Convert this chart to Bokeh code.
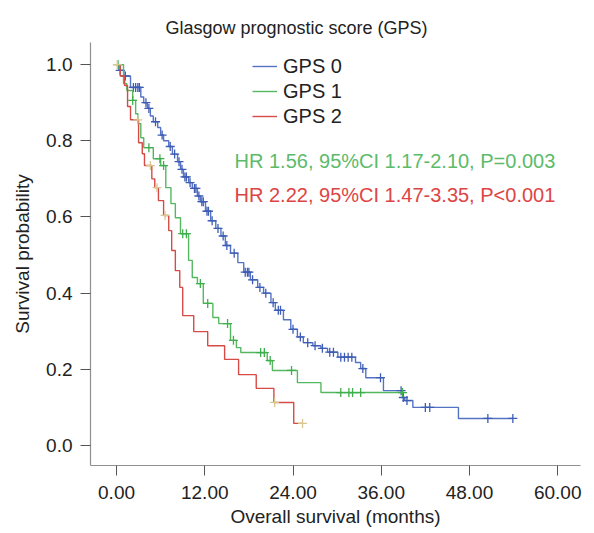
import numpy as np
from bokeh.plotting import figure
from bokeh.models import Range1d, FixedTicker, Legend, LegendItem, Label
from bokeh.embed import file_html
from bokeh.resources import INLINE

# ---------------- data ----------------
title_text = "Glasgow prognostic score (GPS)"
group_names = ["GPS 0", "GPS 1", "GPS 2"]

# GPS 0 (blue) Kaplan-Meier steps: time (months) and survival after each step
gps0_t = [0, 0.3, 1.0, 1.9, 3.3, 3.7, 4.2, 4.6, 5.0, 5.6, 6.0, 6.4, 7.1, 7.6, 8.3, 8.7,
          9.1, 9.8, 10.3, 11.0, 11.4, 12.1, 12.8, 13.5, 14.2, 14.8, 15.5, 16.5, 17.3,
          18.2, 19.2, 20.0, 21.0, 21.6, 22.7, 23.7, 24.6, 25.4, 26.7, 27.8, 28.7, 30.1,
          32.5, 33.2, 33.9, 36.3, 38.9, 39.2, 40.3, 46.5]
gps0_s = [1.0, 0.985, 0.97, 0.94, 0.915, 0.90, 0.885, 0.865, 0.85, 0.835, 0.815, 0.80,
          0.785, 0.765, 0.745, 0.725, 0.705, 0.69, 0.675, 0.655, 0.64, 0.615, 0.59, 0.57,
          0.55, 0.525, 0.505, 0.48, 0.455, 0.435, 0.415, 0.40, 0.375, 0.355, 0.33, 0.305,
          0.285, 0.27, 0.262, 0.255, 0.245, 0.232, 0.218, 0.202, 0.178, 0.144, 0.126,
          0.118, 0.10, 0.071]
gps0_end = 53.9
gps0_cens = [0.5, 1.2, 2.3, 2.6, 2.9, 3.1, 4.0, 4.4, 5.3, 6.2, 7.3, 7.9, 8.5, 8.9, 9.3,
             9.5, 10.0, 10.6, 10.8, 11.2, 11.6, 11.8, 12.3, 12.5, 13.0, 13.8, 14.5, 15.0,
             16.0, 17.5, 17.8, 18.0, 18.5, 19.5, 20.3, 21.3, 22.0, 22.3, 24.0, 25.0, 26.0,
             27.0, 28.0, 29.0, 29.5, 30.5, 31.0, 31.5, 32.0, 33.5, 35.9, 38.7, 39.0, 39.5,
             42.0, 42.6, 50.5, 53.9]

# GPS 1 (green)
gps1_t = [0, 0.95, 1.4, 2.2, 2.6, 2.9, 3.3, 3.7, 5.0, 6.0, 6.7, 7.4, 8.0, 8.7, 9.8, 10.3,
          11.0, 11.8, 13.1, 13.9, 15.5, 16.3, 16.9, 20.5, 21.2, 24.6, 27.8]
gps1_s = [1.0, 0.95, 0.932, 0.906, 0.871, 0.845, 0.808, 0.782, 0.753, 0.735, 0.677, 0.635,
          0.598, 0.556, 0.486, 0.441, 0.425, 0.373, 0.336, 0.320, 0.276, 0.257, 0.244,
          0.223, 0.197, 0.165, 0.139]
gps1_end = 38.9
gps1_cens = [0.2, 2.2, 4.4, 5.9, 6.4, 9.0, 9.5, 11.4, 12.4, 15.1, 15.9, 19.6, 20.1, 20.9,
             23.8, 30.5, 31.6, 32.1, 33.2, 38.9]

# GPS 2 (red)
gps2_t = [0, 0.5, 1.1, 1.5, 1.9, 3.0, 3.5, 3.8, 4.8, 5.2, 5.7, 6.4, 7.1, 7.5, 8.0, 8.6,
          9.0, 10.5, 12.4, 14.7, 16.6, 19.0, 21.4, 24.1]
gps2_s = [1.0, 0.97, 0.945, 0.89, 0.855, 0.795, 0.766, 0.735, 0.70, 0.677, 0.643, 0.604,
          0.564, 0.512, 0.459, 0.415, 0.341, 0.299, 0.262, 0.226, 0.186, 0.150, 0.113,
          0.058]
gps2_end = 25.3
gps2_cens = [0.1, 2.9, 4.6, 5.5, 6.6, 21.5, 25.3]

hr_texts = ["HR 1.56, 95%CI 1.17-2.10, P=0.003", "HR 2.22, 95%CI 1.47-3.35, P<0.001"]

x_ticks = [0, 12, 24, 36, 48, 60]
x_tick_labels = ["0.00", "12.00", "24.00", "36.00", "48.00", "60.00"]
y_ticks = [0, 0.2, 0.4, 0.6, 0.8, 1.0]
y_tick_labels = ["0.0", "0.2", "0.4", "0.6", "0.8", "1.0"]

# ---------------- styling ----------------
FONT = "Liberation Sans"
line_colors = ["#5573c4", "#55b860", "#d64b45"]
cens_colors = ["#3d5cb5", "#3fae4c", "#d8c890"]
text_green = "#5cbb6b"
text_red = "#dd4545"

p = figure(width=590, height=533, output_backend="svg", toolbar_location=None,
           x_range=Range1d(-3.54, 63.1), y_range=Range1d(-0.0525, 1.058),
           min_border_left=90, min_border_right=10, min_border_top=42,
           min_border_bottom=68)
p.outline_line_color = None
p.xgrid.visible = False
p.ygrid.visible = False
p.background_fill_color = "white"
p.border_fill_color = "white"

p.title.text = title_text
p.title.align = "left"
p.title.offset = 75
p.title.text_font = FONT
p.title.text_font_size = "18px"
p.title.text_font_style = "normal"
p.title.text_color = "#222222"

for ax in (p.xaxis[0], p.yaxis[0]):
    ax.axis_line_color = "#8f8f8f"
    ax.axis_line_width = 1.2
    ax.major_tick_line_color = "#555555"
    ax.major_tick_in = 0
    ax.major_tick_out = 10
    ax.minor_tick_line_color = None
    ax.major_label_text_font = FONT
    ax.major_label_text_font_size = "19px"
    ax.major_label_text_color = "#222222"
    ax.axis_label_text_font = FONT
    ax.axis_label_text_font_size = "19px"
    ax.axis_label_text_font_style = "normal"
    ax.axis_label_text_color = "#222222"

p.xaxis.major_label_standoff = 10
p.yaxis.major_label_standoff = 8
p.xaxis.ticker = FixedTicker(ticks=x_ticks)
p.xaxis.major_label_overrides = {t: l for t, l in zip(x_ticks, x_tick_labels)}
p.yaxis.ticker = FixedTicker(ticks=y_ticks)
p.yaxis.major_label_overrides = {t: l for t, l in zip(y_ticks, y_tick_labels)}
p.xaxis.axis_label = "Overall survival (months)"
p.yaxis.axis_label = "Survival probability"
p.xaxis.axis_label_standoff = 4
p.yaxis.axis_label_standoff = 10

groups = [
    (gps0_t, gps0_s, gps0_end, gps0_cens),
    (gps1_t, gps1_s, gps1_end, gps1_cens),
    (gps2_t, gps2_s, gps2_end, gps2_cens),
]

items = []
for i, (t, s, end, cens) in enumerate(groups):
    xs = list(t) + [end]
    ys = list(s) + [s[-1]]
    r = p.step(xs, ys, mode="after", line_color=line_colors[i], line_width=1.4)
    items.append(LegendItem(label=group_names[i], renderers=[r]))
    ta = np.array(t)
    idx = np.searchsorted(ta, np.array(cens), side="right") - 1
    cy = np.array(s)[idx]
    p.scatter(cens, cy, marker="cross", size=9, line_color=cens_colors[i],
              line_width=1.3)

legend = Legend(items=items, location=(162, 337), border_line_color=None,
                background_fill_alpha=0, label_text_font=FONT,
                label_text_font_size="20px", label_text_color="#222222",
                glyph_width=25, glyph_height=24, label_height=24,
                label_standoff=6, spacing=1, padding=0, margin=0)
p.add_layout(legend)

p.add_layout(Label(x=16.05, y=0.748, text=hr_texts[0], text_baseline="middle",
                   text_font=FONT, text_font_size="20px", text_color=text_green))
p.add_layout(Label(x=16.05, y=0.657, text=hr_texts[1], text_baseline="middle",
                   text_font=FONT, text_font_size="20px", text_color=text_red))

open("out.html", "w").write(file_html(p, INLINE))
